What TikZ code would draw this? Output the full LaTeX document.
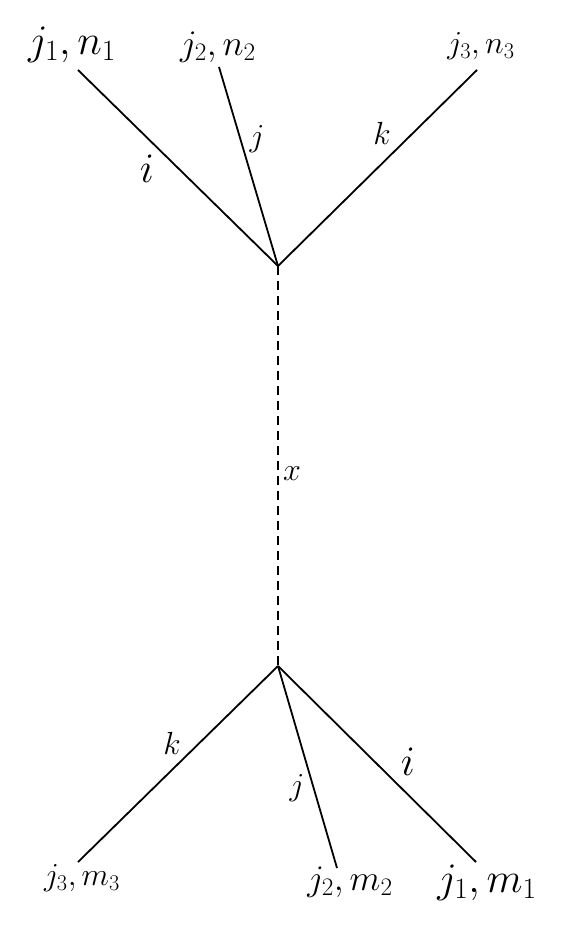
\documentclass[tikz,border=0pt]{standalone}
\usepackage{fix-cm}
\begin{document}
\begin{tikzpicture}[x=1pt,y=-1pt,
  leg/.style={line width=1.8pt},
  prop/.style={line width=1.8pt, dash pattern=on 9pt off 6pt},
  big/.style={font=\fontsize{42}{46}\selectfont, inner sep=0pt},
  mid/.style={font=\fontsize{36}{40}\selectfont, inner sep=0pt},
  sml/.style={font=\fontsize{32}{36}\selectfont, inner sep=0pt},
  lbl/.style={font=\fontsize{32}{36}\selectfont, inner sep=0pt},
  lblbig/.style={font=\fontsize{42}{46}\selectfont, inner sep=0pt}]
\useasboundingbox (0,0) rectangle (565,933);
% vertices
\coordinate (top) at (278,266);
\coordinate (bot) at (278,666);
% end points
\coordinate (t1) at (78,70);
\coordinate (t2) at (219,67);
\coordinate (t3) at (477,70);
\coordinate (b3) at (78,862);
\coordinate (b2) at (337,868);
\coordinate (b1) at (476,862);
% legs
\draw[leg] (top) -- (t1);
\draw[leg] (top) -- (t2);
\draw[leg] (top) -- (t3);
\draw[leg] (bot) -- (b3);
\draw[leg] (bot) -- (b2);
\draw[leg] (bot) -- (b1);
\draw[prop] (top) -- (bot);
% end labels
\node[big] (lt1) at (72,45) {$j_1, n_1$};
\node[mid] (lt2) at (218,47) {$j_2, n_2$};
\node[sml] (lt3) at (481,46) {$j_3, n_3$};
\node[sml] (lb3) at (82,878) {$j_3, m_3$};
\node[mid] (lb2) at (350,882) {$j_2, m_2$};
\node[big] (lb1) at (487,883) {$j_1, m_1$};
% line labels
\node[lblbig] (li) at (147,169) {$i$};
\node[lbl] (lj) at (257,139) {$j$};
\node[lbl] (lk) at (382,133) {$k$};
\node[lbl] (lx) at (292,474) {$x$};
\node[lbl] (bk) at (172,743) {$k$};
\node[lbl] (bj) at (297,788) {$j$};
\node[lblbig] (bi) at (408,762) {$i$};
\end{tikzpicture}
\end{document}
